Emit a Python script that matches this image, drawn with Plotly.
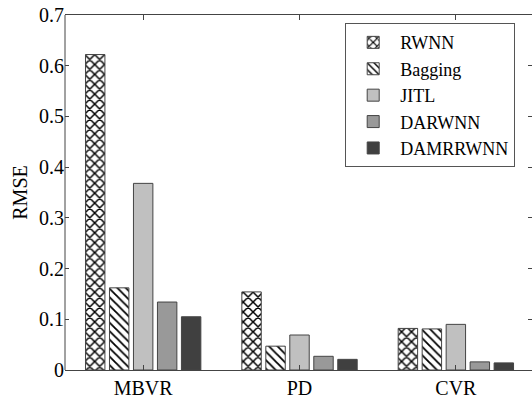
import plotly.graph_objects as go

categories = ["MBVR", "PD", "CVR"]
methods = ["RWNN", "Bagging", "JITL", "DARWNN", "DAMRRWNN"]
rwnn = [0.622, 0.154, 0.082]
bagging = [0.162, 0.047, 0.081]
jitl = [0.368, 0.069, 0.090]
darwnn = [0.134, 0.027, 0.016]
damrrwnn = [0.105, 0.021, 0.014]
y_ticks = [0, 0.1, 0.2, 0.3, 0.4, 0.5, 0.6, 0.7]
y_tick_labels = ["0", "0.1", "0.2", "0.3", "0.4", "0.5", "0.6", "0.7"]

series = [rwnn, bagging, jitl, darwnn, damrrwnn]
fills = ["white", "white", "#c0c0c0", "#999999", "#404040"]
patterns = [
    dict(shape="x", fgcolor="black", bgcolor="white", fgopacity=1, size=7, solidity=0.38),
    dict(shape="\\", fgcolor="black", bgcolor="white", fgopacity=1, size=6, solidity=0.3),
    dict(shape=""), dict(shape=""), dict(shape=""),
]

FONT = "Times New Roman, Liberation Serif, DejaVu Serif, serif"
FS = 20
fig = go.Figure()
for name, vals, fc, pat in zip(methods, series, fills, patterns):
    fig.add_trace(go.Bar(
        x=categories, y=vals, name=name,
        marker=dict(color=fc, pattern=pat, line=dict(color="#444444", width=1)),
    ))

fig.update_layout(
    width=532, height=399,
    margin=dict(l=65, r=0, t=15, b=26),
    paper_bgcolor="white", plot_bgcolor="white",
    barmode="group", bargap=0.233, bargroupgap=0.19,
    font=dict(family=FONT, size=FS, color="black"),
    legend=dict(
        x=0.6, y=0.977, xanchor="left", yanchor="top",
        bgcolor="white", bordercolor="#555555", borderwidth=1,
        font=dict(family=FONT, size=18, color="black"),
        tracegroupgap=0, itemwidth=44,
    ),
    shapes=[dict(type="line", xref="paper", yref="paper", x0=0, x1=0, y0=0, y1=1,
                 line=dict(color="#444444", width=1))],
)
fig.update_xaxes(
    range=[-0.5, 2.487], showline=True, linecolor="#444444", linewidth=1,
    mirror="ticks", ticks="inside", ticklen=5, tickcolor="#444444",
    showgrid=False, tickfont=dict(family=FONT, size=FS),
)
fig.update_yaxes(
    range=[0, 0.7], tickvals=y_ticks, ticktext=y_tick_labels,
    showline=False, mirror="ticks", ticks="inside", ticklen=4, tickcolor="#444444",
    showgrid=False, zeroline=False, tickfont=dict(family=FONT, size=FS),
    title=dict(text="RMSE", font=dict(family=FONT, size=FS), standoff=6),
)

fig.write_html("out.html")
